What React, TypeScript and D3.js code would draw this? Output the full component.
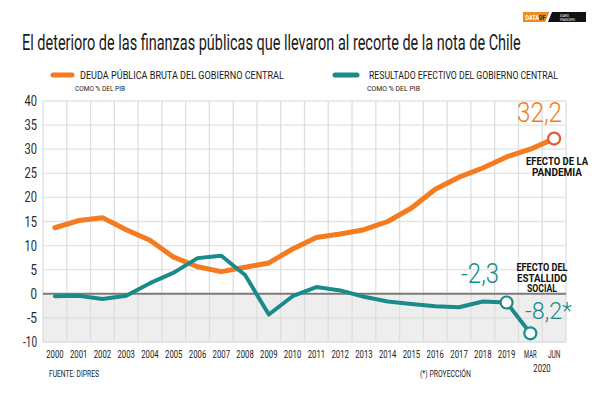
import React, { useLayoutEffect, useRef, useState } from "react";
import * as d3 from "d3";

const categories = ["2000","2001","2002","2003","2004","2005","2006","2007","2008","2009","2010","2011","2012","2013","2014","2015","2016","2017","2018","2019","MAR","JUN"];
const deuda = [13.7, 15.2, 15.8, 13.3, 11.1, 7.6, 5.6, 4.6, 5.5, 6.4, 9.3, 11.7, 12.4, 13.3, 15.0, 17.8, 21.7, 24.2, 26.1, 28.4, 30.0, 32.2];
const resultado = [-0.5, -0.4, -1.1, -0.4, 2.2, 4.4, 7.4, 7.9, 3.9, -4.3, -0.5, 1.4, 0.7, -0.6, -1.6, -2.1, -2.6, -2.8, -1.6, -1.8, -8.2];
const yTicks = [40, 35, 30, 25, 20, 15, 10, 5, 0, -5, -10];

const ORANGE = "#f47b20";
const TEAL = "#1b8a8a";
const FONT = "Roboto, 'Open Sans', sans-serif";

type CTProps = {
  x: number; y: number; width: number; anchor?: "start" | "middle" | "end";
  size: number; fill?: string; weight?: number | string; children: React.ReactNode;
};

function CT({ x, y, width, anchor = "start", size, fill = "#1a1a1a", weight = 400, children }: CTProps) {
  const ref = useRef<SVGTextElement>(null);
  const [sx, setSx] = useState(0.75);
  useLayoutEffect(() => {
    if (ref.current) {
      const w = ref.current.getComputedTextLength();
      if (w > 0) setSx(width / w);
    }
  }, [width, children, size]);
  return (
    <text ref={ref} transform={`translate(${x},${y}) scale(${sx},1)`} fontSize={size} fill={fill}
      fontWeight={weight} textAnchor={anchor}>{children}</text>
  );
}

export default function App() {
  const x = d3.scaleBand<string>().domain(categories).range([43, 566]).paddingInner(0).paddingOuter(0);
  const y = d3.scaleLinear().domain([-10, 40]).range([342, 101]);
  const cx = (c: string) => (x(c) as number) + x.bandwidth() / 2;

  const lineD = d3.line<number>().x((_, i) => cx(categories[i])).y((v) => y(v));
  const deudaPath = lineD(deuda) || "";
  const resPath = lineD(resultado) || "";

  const left = 43, right = 566;
  const boundaries = categories.map((c) => x(c) as number).concat([right]);

  return (
    <svg width={600} height={400} style={{ position: "fixed", top: 0, left: 0, background: "#fff" }} fontFamily={FONT}>
      <rect x={0} y={0} width={600} height={400} fill="#fff" />
      {/* logo */}
      <rect x={523} y={12} width={26} height={10} fill="#f08a24" />
      <CT x={525.5} y={19.5} size={7} width={20} weight={700} fill="#fff">DATA<tspan fill="#222">DF</tspan></CT>
      <polygon points="549,12 586,12 586,22 545,22" fill="#111" />
      <polygon points="549,12 552,12 548,22 545,22" fill="#fff" />
      <CT x={560} y={16.5} size={3.5} width={9} fill="#fff">DIARIO</CT>
      <CT x={560} y={20.5} size={3.5} width={15} fill="#fff">FINANCIERO</CT>

      {/* title */}
      <CT x={22} y={50} size={22} width={499} fill="#1a1a1a">
        El deterioro de las finanzas públicas que llevaron al recorte de la nota de Chile
      </CT>

      {/* legend */}
      <line x1={53} x2={72} y1={75} y2={75} stroke={ORANGE} strokeWidth={5} strokeLinecap="round" />
      <CT x={80} y={79} size={11} width={204}>DEUDA PÚBLICA BRUTA DEL GOBIERNO CENTRAL</CT>
      <CT x={75} y={91} size={8} width={50}>COMO % DEL PIB</CT>
      <line x1={335} x2={357} y1={75} y2={75} stroke={TEAL} strokeWidth={5} strokeLinecap="round" />
      <CT x={369} y={79} size={11} width={189}>RESULTADO EFECTIVO DEL GOBIERNO CENTRAL</CT>
      <CT x={367} y={91} size={8} width={53}>COMO % DEL PIB</CT>

      {/* shaded negative area */}
      <rect x={left} y={y(0)} width={right - left} height={y(-10) - y(0)} fill="#edeeed" />

      {/* grid */}
      {yTicks.filter((t) => t !== 0).map((t) => (
        <line key={"h" + t} x1={left} x2={right} y1={y(t)} y2={y(t)} stroke={t < 0 ? "#dcdedc" : "#e3e3e3"} strokeWidth={1.3} />
      ))}
      {boundaries.map((b, i) => (
        <line key={"v" + i} x1={b} x2={b} y1={y(40)} y2={y(-10)} stroke="#dedede" strokeWidth={1.3} />
      ))}
      <line x1={left} x2={right} y1={y(0)} y2={y(0)} stroke="#7a7a7a" strokeWidth={2} />

      {/* y tick labels */}
      {yTicks.map((t) => {
        const s = String(t);
        const w = s.length === 1 ? 6.5 : s.length === 2 ? (t < 0 ? 10 : 12.5) : 14;
        return (
          <CT key={"yt" + t} x={37} y={y(t) + 5} size={14} width={w} anchor="end" fill="#2a2a2a">{s}</CT>
        );
      })}

      {/* x labels */}
      {categories.map((c) => (
        <CT key={"xl" + c} x={cx(c)} y={358} size={11} width={c.length === 4 ? 17.5 : 12.5} anchor="middle" fill="#222">{c}</CT>
      ))}
      <CT x={542} y={372} size={11} width={17.5} anchor="middle" fill="#222">2020</CT>

      {/* lines */}
      <path d={deudaPath} fill="none" stroke={ORANGE} strokeWidth={5} strokeLinejoin="round" strokeLinecap="round" />
      <path d={resPath} fill="none" stroke={TEAL} strokeWidth={4} strokeLinejoin="round" strokeLinecap="round" />

      {/* end markers */}
      <circle cx={cx("JUN")} cy={y(deuda[21])} r={6} fill="#fff" stroke="#e8582a" strokeWidth={2.2} />
      <circle cx={cx("2019")} cy={y(resultado[19])} r={6} fill="#fff" stroke={TEAL} strokeWidth={2.2} />
      <circle cx={cx("MAR")} cy={y(resultado[20])} r={6} fill="#fff" stroke={TEAL} strokeWidth={2.2} />

      {/* annotations */}
      <CT x={517} y={122} size={28} width={45} weight={300} fill={ORANGE}>32,2</CT>
      <CT x={557} y={165} size={10.5} width={62} weight={700} anchor="middle" fill="#111">EFECTO DE LA</CT>
      <CT x={557} y={176} size={10.5} width={50} weight={700} anchor="middle" fill="#111">PANDEMIA</CT>

      <CT x={461} y={283} size={27} width={38} weight={300} fill={TEAL}>-2,3</CT>
      <CT x={542} y={271} size={10.5} width={51} weight={700} anchor="middle" fill="#111">EFECTO DEL</CT>
      <CT x={542} y={281.5} size={10.5} width={50} weight={700} anchor="middle" fill="#111">ESTALLIDO</CT>
      <CT x={542} y={292} size={10.5} width={30} weight={700} anchor="middle" fill="#111">SOCIAL</CT>
      <CT x={525} y={319} size={24} width={47} weight={300} fill={TEAL}>-8,2*</CT>

      {/* footer */}
      <CT x={49} y={377} size={8.5} width={50} fill="#222">FUENTE: DIPRES</CT>
      <CT x={420} y={377} size={8.5} width={51} fill="#222">(*) PROYECCIÓN</CT>
    </svg>
  );
}
